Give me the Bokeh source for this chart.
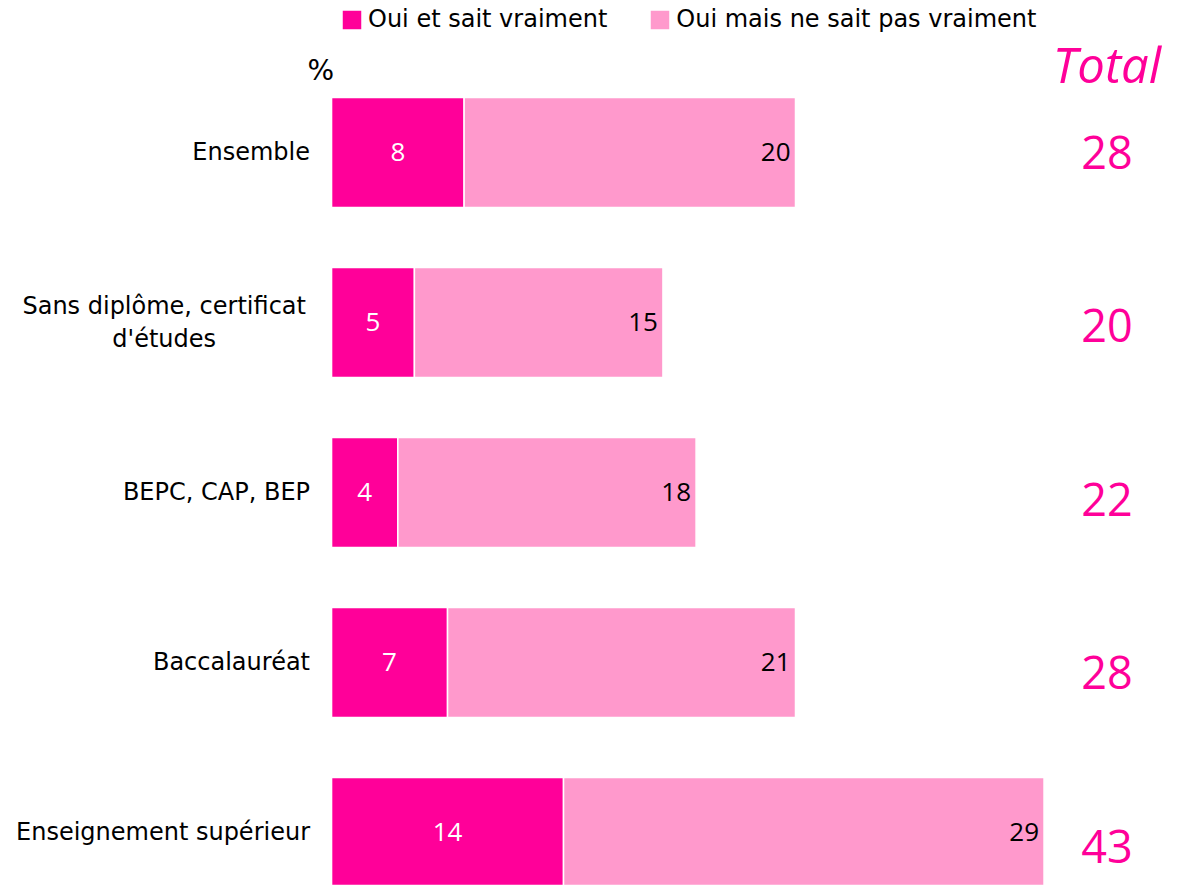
from bokeh.plotting import figure
from bokeh.models import ColumnDataSource, Range1d, Legend, LegendItem, Label
from bokeh.core.properties import value
from bokeh.embed import file_html
from bokeh.resources import INLINE

categories = ["Ensemble", "Sans diplôme, certificat\nd'études", "BEPC, CAP, BEP",
              "Baccalauréat", "Enseignement supérieur"]
sait_vraiment = [8, 5, 4, 7, 14]
sait_pas_vraiment = [20, 15, 18, 21, 29]
totals = [28, 20, 22, 28, 43]
series_names = ["Oui et sait vraiment", "Oui mais ne sait pas vraiment"]

DARK = "#FF0099"
LIGHT = "#FF99CC"
FONT = "DejaVu Sans"
NUMFONT = "Open Sans"

idx = list(range(len(categories)))
right2 = [a + b for a, b in zip(sait_vraiment, sait_pas_vraiment)]

src = ColumnDataSource(dict(
    y=idx, cat=categories,
    a=sait_vraiment, b=sait_pas_vraiment, tot=totals,
    amid=[v / 2 for v in sait_vraiment],
    end=right2,
    atxt=[str(v) for v in sait_vraiment],
    btxt=[str(v) for v in sait_pas_vraiment],
    ttxt=[str(v) for v in totals],
    ytot=[i * 1.02 for i in idx],
))

p = figure(width=1163, height=885, output_backend="svg", toolbar_location=None,
           x_range=Range1d(-19.98, 50.21), y_range=Range1d(4.312, -0.894),
           min_border=0)
p.axis.visible = False
p.grid.visible = False
p.outline_line_color = None
p.background_fill_color = "white"

r1 = p.hbar(y="y", left=0, right="a", height=0.647, source=src,
            fill_color=DARK, line_color="white", line_width=1.5)
r2 = p.hbar(y="y", left="a", right="end", height=0.647, source=src,
            fill_color=LIGHT, line_color="white", line_width=1.5)

# values inside bars
p.text(x="amid", y="y", text="atxt", source=src, text_color="white",
       text_font=value(NUMFONT), text_font_size="26px", text_align="center",
       text_baseline="middle")
p.text(x="end", y="y", text="btxt", source=src, text_color="black",
       text_font=value(NUMFONT), text_font_size="26px", text_align="right",
       text_baseline="middle", x_offset=-5)

# totals
p.text(x=46.8, y="ytot", text="ttxt", source=src, text_color=DARK,
       text_font=value(NUMFONT), text_font_size="45px", text_align="center",
       text_baseline="middle")

# category labels
single = ColumnDataSource(dict(
    y=[i for i, c in zip(idx, categories) if "\n" not in c],
    cat=[c for c in categories if "\n" not in c]))
multi = ColumnDataSource(dict(
    y=[i for i, c in zip(idx, categories) if "\n" in c],
    cat=[c for c in categories if "\n" in c]))
p.text(x=-1.3, y="y", text="cat", source=single, text_color="black",
       text_font=value(FONT), text_font_size="24px", text_align="right",
       text_baseline="middle")
p.text(x=-10.1, y="y", text="cat", source=multi, text_color="black",
       text_font=value(FONT), text_font_size="24px", text_align="center",
       text_baseline="middle", text_line_height=1.15)

p.add_layout(Label(x=-0.65, y=-0.48, text="%", text_font=FONT, text_font_size="28px",
                   text_color="black", text_align="center", text_baseline="middle"))
p.add_layout(Label(x=46.8, y=-0.52, text="Total", text_font=NUMFONT, text_font_size="49px",
                   text_font_style="italic", text_color=DARK, text_align="center",
                   text_baseline="middle"))

legend = Legend(items=[LegendItem(label=series_names[0], renderers=[r1]),
                       LegendItem(label=series_names[1], renderers=[r2])],
                location=(339, 852), orientation="horizontal",
                padding=0, margin=0, spacing=40, label_standoff=4,
                glyph_width=25, glyph_height=25,
                label_text_font=FONT, label_text_font_size="24px",
                label_text_color="black", border_line_color=None,
                background_fill_alpha=0)
p.add_layout(legend)

open("out.html", "w").write(file_html(p, INLINE))
